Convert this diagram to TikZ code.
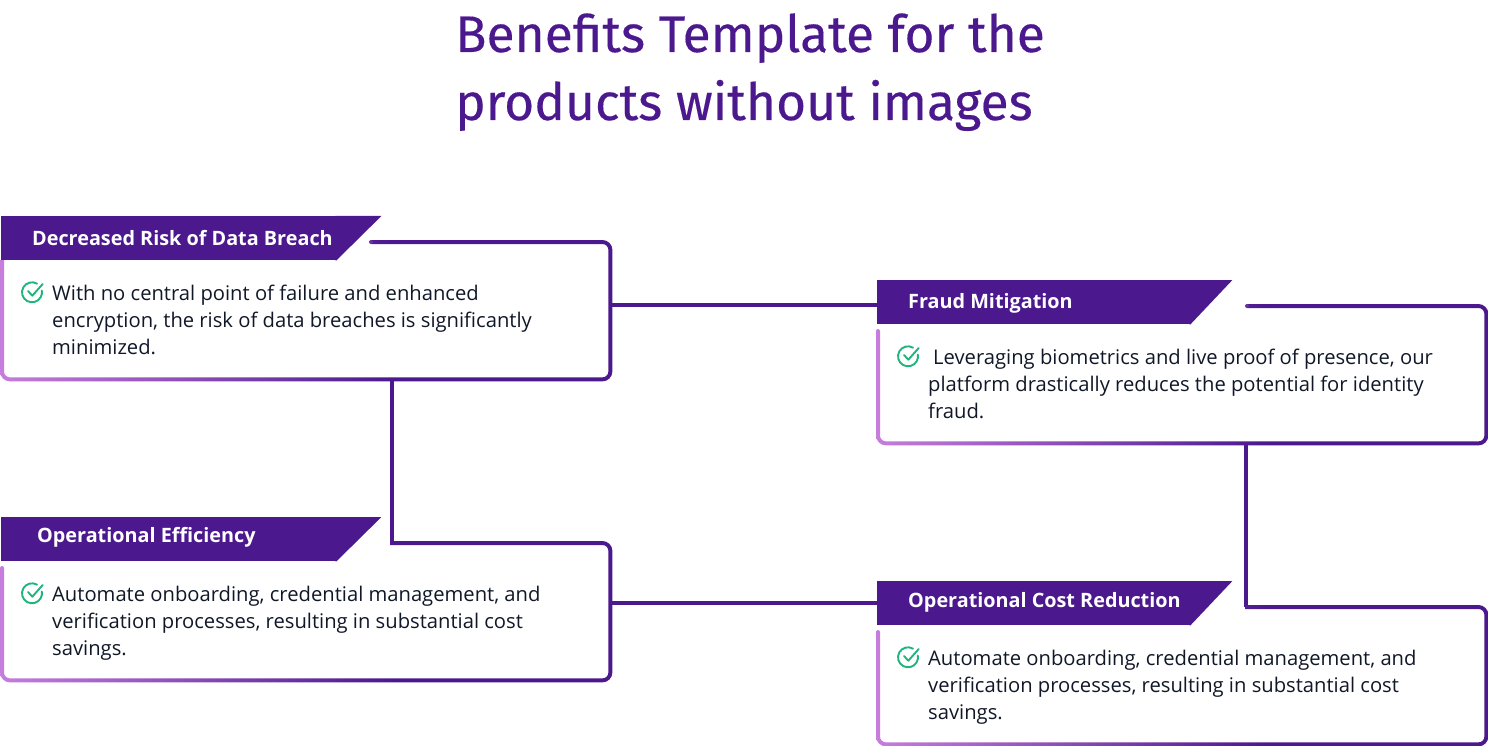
\documentclass[tikz,border=0pt]{standalone}
\usepackage{fontspec}
\setmainfont{Open Sans}
\newfontfamily\titlefont{Fira Sans}[FakeBold=0.3]
\usetikzlibrary{calc}
\definecolor{bandviolet}{HTML}{4B188E}
\definecolor{edgelilac}{HTML}{C67DDC}
\definecolor{capviolet}{HTML}{6A30A2}
\definecolor{bodyink}{HTML}{101828}
\definecolor{tickgreen}{HTML}{1FB57E}
\pgfdeclarehorizontalshading{edgefade}{100bp}{color(0bp)=(edgelilac); color(25bp)=(edgelilac); color(57bp)=(bandviolet); color(100bp)=(bandviolet)}
\tikzset{
  x=1pt,y=-1pt,
  headline/.style={anchor=base west,inner sep=0pt,text=bandviolet,font=\titlefont\fontsize{51.5}{51}\selectfont},
  frame/.style={anchor=north west,inner sep=0pt,minimum width=612pt,minimum height=141pt},
  tag/.style={anchor=north west,inner sep=0pt,fill=bandviolet,minimum height=44pt},
  tagtext/.style={anchor=base west,inner sep=0pt,text=white,font=\fontsize{19.8}{22}\selectfont\bfseries},
  copytext/.style={anchor=north west,inner sep=0pt,text=bodyink,align=left,font=\fontsize{20.2}{27}\selectfont},
  tick/.style={inner sep=0pt,minimum size=22pt},
  tickline/.style={draw=tickgreen,line width=1.9pt,line cap=round,line join=round},
  link/.style={draw=bandviolet,line width=3.6pt}
}
\begin{document}
\begin{tikzpicture}
\useasboundingbox (0,0) rectangle (1488,746);
\node[headline] (title1) at (455,52) {Benefits Template for the};
\node[headline] (title2) at (455,120) {products without images};
% frames
\node[frame] (frame1) at (0,240) {};
\node[frame] (frame2) at (876,304) {};
\node[frame] (frame3) at (0,541) {};
\node[frame] (frame4) at (876,605) {};
% tags
\foreach \t/\u/\v/\w/\s in {tag1/1/216/335/45,tag2/877/280/313/42,tag3/1/517/335/45,tag4/877/581/313/42}{
  \node[tag,minimum width=\w pt] (\t) at (\u,\v) {};
  \fill[bandviolet] ([xshift=-1pt]\t.north east) -- ++(\s+1,0) -- (\t.south east) -- ([xshift=-1pt]\t.south east) -- cycle;
}
% connectors
\draw[link] ([yshift=5.5pt]frame1.east) -- ([yshift=-3pt]tag2.west);
\draw[link] ([xshift=85.5pt]frame1.south) -- ([xshift=85.5pt,yshift=-2pt]frame3.north);
\draw[link] ([xshift=64pt]frame2.south) -- ([xshift=64pt,yshift=-2pt]frame4.north);
\draw[link] ([yshift=8.5pt]frame3.east) -- (tag4.west);
% edges
\foreach \f/\topx/\lefty in {frame1/371/260,frame2/1247/331,frame3/390/568,frame4/1245/632}{
  \begin{scope}
  \clip (\topx,0) rectangle (1488,746) (0,\lefty) rectangle (\topx,746);
  \shade[shading=edgefade,even odd rule,rounded corners=10pt] (\f.north west) rectangle (\f.south east)
    [rounded corners=6pt] ([shift={(4pt,-4pt)}]\f.north west) rectangle ([shift={(-4pt,4pt)}]\f.south east);
  \end{scope}
}
\fill[capviolet] (371,242) circle[radius=2pt] (1247,306) circle[radius=2pt];
\fill[edgelilac] (878,331) circle[radius=2pt] (2,568) circle[radius=2pt] (878,632) circle[radius=2pt];
\node[tagtext] (head1) at ([xshift=31pt,yshift=15pt]tag1.south west) {Decreased Risk of Data Breach};
\node[tagtext] (head2) at ([xshift=31pt,yshift=16pt]tag2.south west) {Fraud Mitigation};
\node[tagtext] (head3) at ([xshift=36pt,yshift=18.5pt]tag3.south west) {Operational Efficiency};
\node[tagtext] (head4) at ([xshift=31pt,yshift=18pt]tag4.south west) {Operational Cost Reduction};
% ticks
\foreach \k/\u/\v in {tick1/32/292.3,tick2/908/356.3,tick3/32/593.3,tick4/908/657.3}{
  \node[tick] (\k) at (\u,\v) {};
  \draw[tickline] ([shift={(5pt,8.66pt)}]\k.center) arc[start angle=60,end angle=370,radius=10pt];
  \draw[tickline] ([shift={(-4pt,1.3pt)}]\k.center) -- ([shift={(0.3pt,-3.4pt)}]\k.center) -- ([shift={(10.7pt,8.3pt)}]\k.center);
}
% text
\node[copytext] (copy1) at (52,285) {With no central point of failure and enhanced\\encryption, the risk of data breaches is significantly\\minimized.};
\node[copytext] (copy2) at (928,349) {\hspace*{5pt}Leveraging biometrics and live proof of presence, our\\platform drastically reduces the potential for identity\\fraud.};
\node[copytext] (copy3) at (52,586) {Automate onboarding, credential management, and\\verification processes, resulting in substantial cost\\savings.};
\node[copytext] (copy4) at (928,650) {Automate onboarding, credential management, and\\verification processes, resulting in substantial cost\\savings.};
\end{tikzpicture}
\end{document}
